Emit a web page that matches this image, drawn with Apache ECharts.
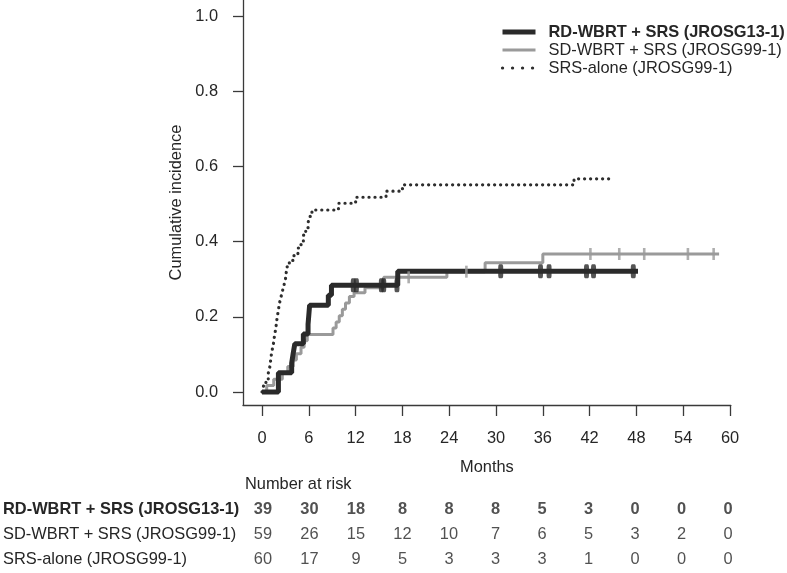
<!DOCTYPE html>
<html>
<head>
<meta charset="utf-8">
<script src="https://cdn.jsdelivr.net/npm/echarts@6/dist/echarts.min.js"></script>
<style>html,body{margin:0;padding:0;background:#fff}#c{width:787px;height:573px}</style>
</head>
<body>
<div id="c"></div>
<script>
// ---- data ----
const seriesNames = ['RD-WBRT + SRS (JROSG13-1)', 'SD-WBRT + SRS (JROSG99-1)', 'SRS-alone (JROSG99-1)'];
const monthTicks = [0, 6, 12, 18, 24, 30, 36, 42, 48, 54, 60];
const yTicks = [0, 0.2, 0.4, 0.6, 0.8, 1.0];

// cumulative incidence step points [month, value]
const rdCurve = [[0,0],[2.1,0.051],[3.8,0.077],[4.0,0.103],[4.2,0.128],[5.3,0.154],[5.9,0.180],[6.0,0.205],[6.1,0.231],[8.5,0.257],[8.9,0.284],[17.4,0.321],[48.2,0.321]];
const sdCurve = [[0,0],[0.6,0.017],[1.5,0.034],[2.6,0.051],[3.3,0.068],[4.0,0.085],[4.4,0.102],[5.0,0.119],[5.4,0.136],[5.8,0.153],[9.1,0.170],[9.5,0.186],[9.9,0.203],[10.3,0.220],[10.7,0.237],[11.2,0.254],[11.8,0.264],[13.2,0.277],[15.6,0.305],[23.7,0.320],[28.6,0.344],[36.0,0.367],[58.6,0.367]];
const srsCurve = [[0,0],[0.2,0.017],[0.5,0.033],[0.8,0.05],[1.0,0.067],[1.1,0.083],[1.2,0.1],[1.35,0.117],[1.5,0.133],[1.6,0.15],[1.75,0.167],[1.85,0.183],[1.95,0.2],[2.1,0.217],[2.2,0.233],[2.4,0.25],[2.6,0.267],[2.8,0.283],[3.0,0.3],[3.1,0.317],[3.2,0.333],[3.5,0.35],[4.1,0.367],[4.6,0.383],[5.0,0.4],[5.3,0.417],[5.6,0.433],[5.9,0.45],[6.1,0.467],[6.4,0.484],[9.8,0.502],[12.0,0.518],[15.9,0.534],[18.0,0.551],[40.0,0.567],[44.6,0.567]];

// censoring marks [month, value]
const rdCensor = [[11.7,0.284],[12.1,0.284],[15.3,0.284],[15.6,0.284],[17.3,0.284],[30.6,0.321],[35.7,0.321],[36.8,0.321],[41.6,0.321],[42.5,0.321],[47.6,0.321]];
const sdCensor = [[18.8,0.305],[26.2,0.320],[42.1,0.367],[45.8,0.367],[49.0,0.367],[54.6,0.367],[57.9,0.367]];

// number at risk
const rdRisk = [39, 30, 18, 8, 8, 8, 5, 3, 0, 0, 0];
const sdRisk = [59, 26, 15, 12, 10, 7, 6, 5, 3, 2, 0];
const srsRisk = [60, 17, 9, 5, 3, 3, 3, 1, 0, 0, 0];

// ---- chart ----
const FONT = '"Liberation Sans", Arial, sans-serif';
const FS = 16.4;
const TXT = '#262626';
const chart = echarts.init(document.getElementById('c'), null, {renderer: 'canvas'});
const riskRows = [rdRisk, sdRisk, srsRisk];
const riskSeries = riskRows.map((row, r) => ({
  type: 'scatter', xAxisIndex: 1, yAxisIndex: 1, symbolSize: 0, silent: true,
  data: row.map((v, i) => [monthTicks[i], r, v]),
  label: {show: true, position: 'inside', offset: [-2, 0], formatter: p => String(p.value[2]),
          fontFamily: FONT, fontSize: FS, color: TXT, fontWeight: r === 0 ? 'bold' : 'normal'}
}));

chart.setOption({
  animation: false,
  textStyle: {fontFamily: FONT},
  title: {text: 'Number at risk', left: 240, top: 471,
          textStyle: {fontFamily: FONT, fontSize: FS, fontWeight: 'normal', color: TXT}},
  legend: {
    orient: 'vertical', left: 495, top: 18, itemWidth: 33, itemHeight: 14, itemGap: 0,
    textStyle: {fontFamily: FONT, fontSize: FS, color: TXT, lineHeight: 18, padding: [0, 0, 0, 8]},
    data: [
      {name: seriesNames[0], textStyle: {fontWeight: 'bold'}, lineStyle: {width: 5, color: '#2a2a2a'}, itemStyle: {opacity: 0}},
      {name: seriesNames[1], lineStyle: {width: 3, color: '#9a9a9a'}, itemStyle: {opacity: 0}},
      {name: seriesNames[2], lineStyle: {width: 3.2, color: '#2e2e2e', type: [0.1, 9.9], cap: 'round'}, itemStyle: {opacity: 0}}
    ]
  },
  grid: [
    {left: 243, right: 56.2, top: 0, bottom: 168},
    {left: 243, right: 56.2, top: 497, height: 75}
  ],
  xAxis: [
    {type: 'value', gridIndex: 0, min: -2.44, max: 60.1,
     name: 'Months', nameLocation: 'middle', nameGap: 54,
     nameTextStyle: {fontFamily: FONT, fontSize: FS, color: TXT},
     axisLine: {show: true, onZero: false, lineStyle: {color: '#3a3a3a', width: 1.3}},
     axisTick: {show: true, length: 11, customValues: monthTicks, lineStyle: {color: '#3a3a3a', width: 1.3}},
     axisLabel: {customValues: monthTicks, margin: 25, fontFamily: FONT, fontSize: FS, color: TXT},
     splitLine: {show: false}},
    {type: 'value', gridIndex: 1, min: -2.44, max: 60.1, show: false}
  ],
  yAxis: [
    {type: 'value', gridIndex: 0, min: -0.0346, max: 1.0426,
     name: 'Cumulative incidence', nameLocation: 'middle', nameGap: 59, nameRotate: 90,
     nameTextStyle: {fontFamily: FONT, fontSize: FS, color: TXT},
     axisLine: {show: true, onZero: false, lineStyle: {color: '#3a3a3a', width: 1.3}},
     axisTick: {show: true, length: 10, customValues: yTicks, lineStyle: {color: '#3a3a3a', width: 1.3}},
     axisLabel: {customValues: yTicks, margin: 25, fontFamily: FONT, fontSize: FS, color: TXT,
                 formatter: v => v.toFixed(1)},
     splitLine: {show: false}},
    {type: 'category', gridIndex: 1, inverse: true, data: seriesNames,
     axisLine: {show: false}, axisTick: {show: false}, splitLine: {show: false},
     axisLabel: {align: 'left', margin: 243, fontFamily: FONT, fontSize: FS, color: TXT,
                 formatter: (v, i) => i === 0 ? '{b|' + v + '}' : '{n|' + v + '}',
                 rich: {b: {fontFamily: FONT, fontSize: FS, fontWeight: 'bold', color: TXT},
                        n: {fontFamily: FONT, fontSize: FS, color: TXT}}}}
  ],
  series: [
    {name: seriesNames[1], type: 'line', step: 'end', showSymbol: false, symbol: 'none', z: 2, silent: true,
     data: sdCurve, lineStyle: {color: '#9a9a9a', width: 3}},
    {name: seriesNames[2], type: 'line', step: 'end', showSymbol: false, symbol: 'none', z: 3, silent: true,
     data: srsCurve, lineStyle: {color: '#2e2e2e', width: 3.2, type: [0.1, 5.9], cap: 'round'}},
    {name: seriesNames[0], type: 'line', step: 'end', showSymbol: false, symbol: 'none', z: 4, silent: true,
     data: rdCurve, lineStyle: {color: '#2a2a2a', width: 5}},
    {name: 'rd-censor', type: 'scatter', z: 5, silent: true, symbol: 'roundRect', symbolSize: [5, 14],
     data: rdCensor, itemStyle: {color: '#2a2a2a'}},
    {name: 'sd-censor', type: 'scatter', z: 6, silent: true, symbol: 'rect', symbolSize: [2.6, 12],
     data: sdCensor, itemStyle: {color: '#9a9a9a'}}
  ].concat(riskSeries)
});
</script>
</body>
</html>
